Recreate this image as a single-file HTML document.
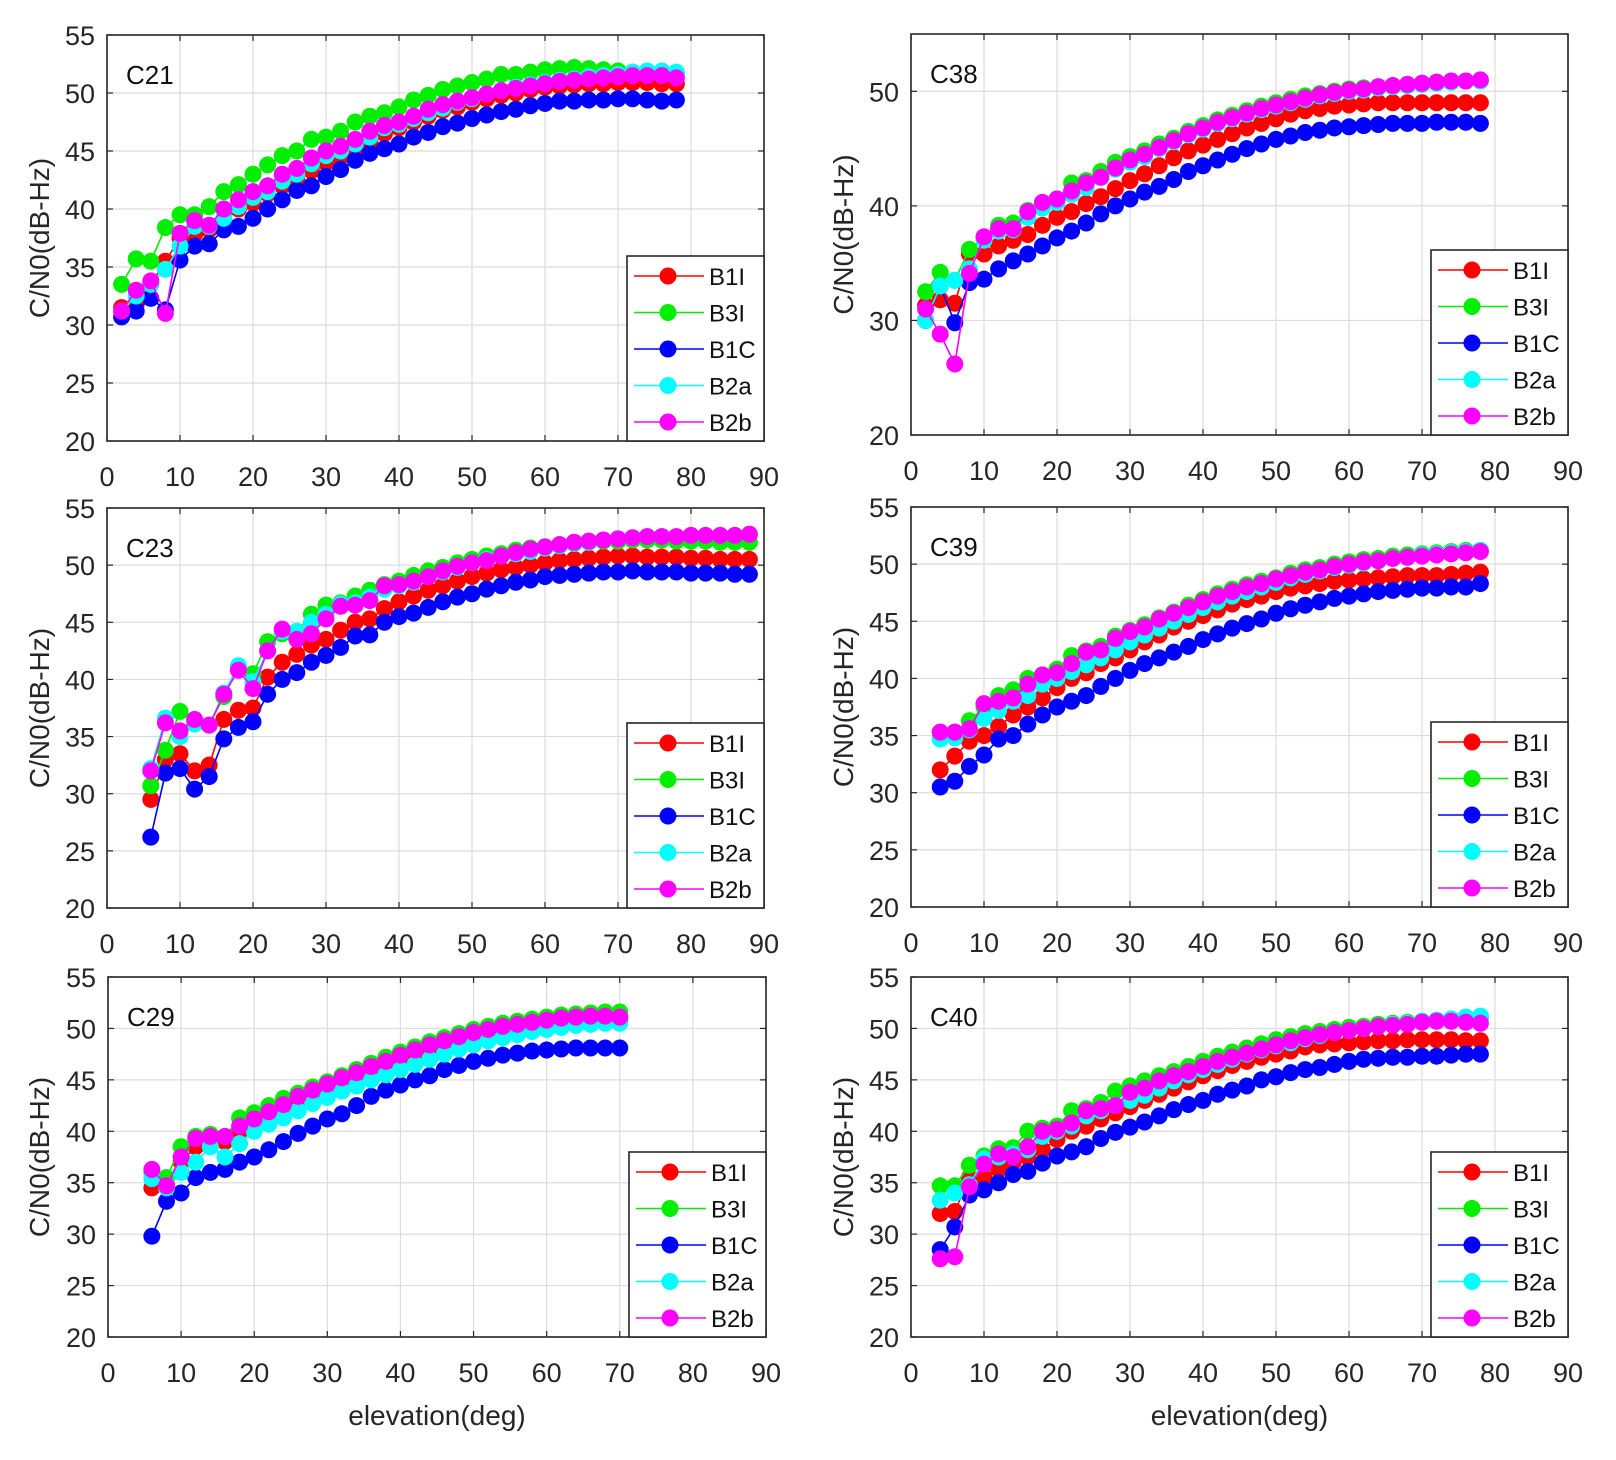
<!DOCTYPE html>
<html><head><meta charset="utf-8"><style>
html,body{margin:0;padding:0;background:#fff;}
svg{display:block;font-family:"Liberation Sans",sans-serif;}
</style></head><body>
<svg id="fig" width="1616" height="1460" viewBox="0 0 1616 1460"></svg>
<script>
const seriesNames = ["B1I","B3I","B1C","B2a","B2b"];
const seriesColors = ["#ff0000","#00ee00","#0000ff","#00ffff","#ff00ff"];
const xTicks = [0,10,20,30,40,50,60,70,80,90];

const c21X = [2,4,6,8,10,12,14,16,18,20,22,24,26,28,30,32,34,36,38,40,42,44,46,48,50,52,54,56,58,60,62,64,66,68,70,72,74,76,78];
const c21B1I = [31.5,31.8,33.5,35.5,37.5,37.8,38.2,39,40,40.5,41.3,42,42.5,43.3,44,44.5,45,45.8,46.5,47,47.5,48,48.5,48.8,49.2,49.5,49.8,50,50.3,50.5,50.6,50.7,50.8,50.8,50.9,50.9,50.9,50.8,50.8];
const c21B3I = [33.5,35.7,35.5,38.4,39.5,39.5,40.2,41.5,42.1,43,43.8,44.6,45,46,46.2,46.7,47.5,48,48.3,48.8,49.4,49.8,50.3,50.6,50.9,51.2,51.6,51.6,51.8,52,52.1,52.2,52.1,52,51.9,51.8,51.8,51.7,51.6];
const c21B1C = [30.7,31.2,32.3,31.3,35.6,36.8,37,38.2,38.5,39.2,40,40.8,41.6,42,42.8,43.4,44.2,44.8,45.2,45.6,46.2,46.6,47.1,47.4,47.8,48.1,48.4,48.6,48.9,49.1,49.3,49.3,49.4,49.4,49.5,49.5,49.4,49.3,49.4];
const c21B2a = [31.2,32.5,33.5,34.8,36.8,38.5,38.5,39.2,40.2,41,41.5,42.4,43,43.9,44.6,45,45.6,46.2,47,47.3,47.8,48.3,48.7,49.2,49.5,49.9,50.2,50.5,50.7,50.9,51.1,51.2,51.4,51.5,51.6,51.8,51.9,51.9,51.8];
const c21B2b = [31.2,33,33.8,31,37.9,39,38.6,40,40.8,41.5,42,43,43.5,44.4,45,45.4,46,46.7,47.2,47.5,48,48.6,49,49.3,49.6,49.9,50.2,50.4,50.6,50.8,51,51.1,51.2,51.3,51.4,51.5,51.5,51.5,51.3];

const c38X = c21X;
const c38B1I = [31.3,31.8,31.5,35.8,35.8,36.5,37,37.5,38.3,39,39.5,40.2,40.8,41.5,42.2,42.8,43.5,44.2,44.8,45.3,45.8,46.3,46.8,47.2,47.6,48,48.3,48.5,48.7,48.8,48.9,49,49,49,49,49,49,49,49];
const c38B3I = [32.5,34.2,33.5,36.2,37.2,38.3,38.5,39.6,40.2,40.6,42,42.2,43,43.8,44.3,44.8,45.4,45.9,46.5,47,47.5,47.9,48.3,48.7,49,49.3,49.6,49.8,50,50.2,50.3,50.4,50.5,50.6,50.7,50.8,50.8,50.9,50.9];
const c38B1C = [30,33,29.8,33.3,33.6,34.5,35.2,35.8,36.5,37.2,37.8,38.5,39.3,40,40.6,41.2,41.7,42.3,43,43.5,44,44.5,45,45.4,45.8,46.1,46.4,46.6,46.8,46.9,47,47.1,47.2,47.2,47.2,47.3,47.3,47.3,47.2];
const c38B2a = [30,33,33.5,34.5,37,37.8,37.9,39,39.8,40.3,41,41.6,42.5,43.2,43.8,44.3,45,45.6,46.2,46.7,47.2,47.6,48,48.4,48.7,49,49.3,49.6,49.8,50,50.1,50.3,50.4,50.5,50.6,50.7,50.8,50.9,50.9];
const c38B2b = [31,28.8,26.2,34.1,37.3,38,38,39.5,40.3,40.6,41.3,42,42.5,43.3,44,44.5,45.1,45.7,46.3,46.8,47.3,47.7,48.1,48.5,48.8,49.1,49.4,49.7,49.9,50.1,50.2,50.4,50.5,50.6,50.7,50.8,50.9,50.9,51];

const c23X = [6,8,10,12,14,16,18,20,22,24,26,28,30,32,34,36,38,40,42,44,46,48,50,52,54,56,58,60,62,64,66,68,70,72,74,76,78,80,82,84,86,88];
const c23B1I = [29.5,33,33.5,32,32.5,36.5,37.3,37.5,40.2,41.5,42.2,43,43.5,44.3,45,45.3,46.2,46.8,47.3,47.8,48.2,48.6,49,49.3,49.6,49.8,50,50.2,50.4,50.5,50.6,50.7,50.8,50.8,50.7,50.7,50.7,50.6,50.6,50.5,50.5,50.5];
const c23B3I = [30.7,33.8,37.2,36.3,36,38.5,41,40.5,43.3,44,44.2,45.7,46.5,46.7,47.3,47.8,48.3,48.6,49.1,49.5,49.8,50.2,50.5,50.8,51,51.3,51.5,51.6,51.8,51.9,52,52.1,52.1,52.2,52.2,52.2,52.1,52.1,52.1,52,52,52];
const c23B1C = [26.2,31.8,32.2,30.4,31.5,34.8,35.8,36.3,38.7,40,40.6,41.5,42.1,42.8,43.8,43.9,45,45.5,45.8,46.3,46.8,47.2,47.5,47.9,48.2,48.5,48.7,49,49.1,49.2,49.3,49.4,49.4,49.5,49.4,49.4,49.4,49.3,49.3,49.3,49.2,49.2];
const c23B2a = [32.2,36.6,35,36.1,36,38.8,41.2,39.8,42.5,44.2,44.2,45,45.7,46.6,46.7,47.2,47.9,48.2,48.5,49,49.4,49.8,50.2,50.5,50.8,51,51.2,51.5,51.7,51.9,52,52.2,52.3,52.4,52.5,52.5,52.5,52.6,52.6,52.6,52.6,52.7];
const c23B2b = [32,36.2,35.5,36.5,36,38.7,40.8,39.2,42.5,44.4,43.5,44,45.3,46.4,46.5,46.9,48.2,48.3,48.6,49,49.5,49.9,50.2,50.4,50.8,51.1,51.4,51.6,51.8,52,52.1,52.2,52.3,52.4,52.5,52.5,52.5,52.6,52.6,52.6,52.6,52.7];

const c39X = [4,6,8,10,12,14,16,18,20,22,24,26,28,30,32,34,36,38,40,42,44,46,48,50,52,54,56,58,60,62,64,66,68,70,72,74,76,78];
const c39B1I = [32,33.2,34.5,35,35.8,36.8,37.5,38.3,39.2,40,40.5,41.3,41.8,42.5,43.2,43.8,44.5,45,45.5,46,46.5,46.9,47.2,47.6,47.9,48.1,48.3,48.5,48.6,48.7,48.8,48.9,49,49,49,49.1,49.2,49.3];
const c39B3I = [35.3,35.3,36.3,37.5,38.5,39,40,40.3,40.8,42,42.4,42.8,43.7,44.2,44.7,45.3,45.8,46.4,46.9,47.4,47.8,48.2,48.5,48.8,49.2,49.5,49.7,50,50.2,50.4,50.5,50.7,50.8,50.9,51,51.1,51.2,51.2];
const c39B1C = [30.5,31,32.3,33.3,34.7,35,36,36.8,37.5,38,38.5,39.3,40,40.7,41.3,41.8,42.3,42.8,43.4,43.9,44.4,44.8,45.2,45.7,46.1,46.4,46.7,47,47.2,47.4,47.6,47.7,47.8,47.9,47.9,48,48,48.3];
const c39B2a = [34.7,34.8,35.5,36.5,37.2,38,38.5,39.5,40,40.6,41.2,41.8,42.5,43.2,43.8,44.4,45,45.6,46.2,46.7,47.2,47.6,48,48.4,48.8,49.1,49.4,49.7,49.9,50.1,50.3,50.5,50.6,50.8,50.9,51,51.1,51.2];
const c39B2b = [35.3,35.3,35.6,37.8,38,38.3,39.5,40.3,40.5,41.3,42.3,42.5,43.5,44.1,44.5,45.2,45.7,46.2,46.7,47.2,47.6,48,48.3,48.7,49,49.3,49.5,49.8,50,50.2,50.3,50.5,50.6,50.7,50.8,50.9,51,51.1];

const c29X = [6,8,10,12,14,16,18,20,22,24,26,28,30,32,34,36,38,40,42,44,46,48,50,52,54,56,58,60,62,64,66,68,70];
const c29B1I = [34.5,34.8,37,38.5,38.8,39,40,41,41.7,42.2,42.8,43.4,43.8,44.3,44.8,45.3,45.8,46.3,46.8,47.3,47.8,48.2,48.6,49,49.3,49.6,49.8,50,50.2,50.4,50.5,50.6,50.7];
const c29B3I = [36,35.5,38.5,39.5,39.7,39.5,41.3,41.8,42.5,43.2,43.7,44.3,44.8,45.4,46,46.6,47.2,47.7,48.2,48.7,49.1,49.5,49.9,50.2,50.5,50.7,50.9,51.1,51.3,51.4,51.5,51.6,51.6];
const c29B1C = [29.8,33.2,34,35.5,36,36.3,37,37.5,38.2,39,39.8,40.5,41.2,41.7,42.5,43.4,44,44.5,45,45.4,46,46.4,46.8,47.1,47.4,47.6,47.8,47.9,48,48.1,48.1,48.1,48.1];
const c29B2a = [35.4,34.5,36,37,38.5,37.5,38.8,40,40.7,41.3,42,42.7,43.3,43.9,44.4,45,45.5,46,46.5,47,47.5,48,48.4,48.8,49.1,49.4,49.7,49.9,50.1,50.3,50.4,50.5,50.5];
const c29B2b = [36.3,34.7,37.5,39.3,39.5,39.5,40.5,41.2,41.9,42.6,43.4,44,44.6,45.2,45.7,46.3,46.8,47.4,47.9,48.4,48.8,49.2,49.6,49.9,50.2,50.4,50.6,50.8,51,51.1,51.2,51.2,51.1];

const c40X = c39X;
const c40B1I = [32,32.2,35.5,35.5,36.3,37,37.5,38.2,39.2,40,40.5,41.2,41.8,42.4,43,43.6,44.2,44.8,45.4,45.9,46.4,46.8,47.2,47.5,47.8,48.2,48.4,48.5,48.6,48.7,48.8,48.8,48.9,48.9,48.9,48.9,48.8,48.8];
const c40B3I = [34.7,34.7,36.7,37.6,38.3,38.4,40,40.3,40.5,42,42.2,42.8,43.9,44.4,44.9,45.4,45.8,46.3,46.8,47.3,47.7,48.1,48.5,48.9,49.2,49.5,49.7,49.9,50.1,50.2,50.4,50.5,50.6,50.7,50.8,50.9,51,51];
const c40B1C = [28.5,30.7,33.8,34.3,35,35.8,36.1,36.9,37.6,38,38.5,39.3,39.9,40.4,40.9,41.5,42.1,42.6,43,43.6,44,44.4,45,45.3,45.7,46,46.2,46.5,46.8,47,47.1,47.2,47.2,47.3,47.3,47.4,47.5,47.5];
const c40B2a = [33.3,34,34.8,37.3,37.5,37.8,38.2,39.5,40,40.5,41.5,42,42.5,43,43.5,44.2,44.9,45.5,46,46.5,47,47.5,47.9,48.3,48.6,49,49.3,49.6,49.8,50,50.2,50.4,50.5,50.7,50.8,50.9,51.1,51.2];
const c40B2b = [27.6,27.8,34.6,36.8,37.8,37.5,38.5,40,40.2,40.8,42,42.2,42.5,43.8,44.2,44.9,45.4,45.8,46.3,46.8,47.2,47.6,48,48.4,48.8,49.1,49.4,49.6,49.8,50,50.2,50.3,50.4,50.6,50.7,50.7,50.6,50.5];

const NS = "http://www.w3.org/2000/svg";
const svg = document.getElementById("fig");
function mk(tag, attrs, parent, text) {
  const e = document.createElementNS(NS, tag);
  for (const k in attrs) e.setAttribute(k, attrs[k]);
  if (text !== undefined) e.textContent = text;
  (parent || svg).appendChild(e);
  return e;
}

const panels = [
  {id:"c21", title:"C21", L:107, R:764, T:35, B:441, yt:[20,25,30,35,40,45,50,55], x:c21X, s:[c21B1I,c21B3I,c21B1C,c21B2a,c21B2b], ylab:39, xlab:false},
  {id:"c38", title:"C38", L:911, R:1568, T:34, B:435, yt:[20,30,40,50], x:c38X, s:[c38B1I,c38B3I,c38B1C,c38B2a,c38B2b], ylab:843, xlab:false},
  {id:"c23", title:"C23", L:107, R:764, T:508, B:908, yt:[20,25,30,35,40,45,50,55], x:c23X, s:[c23B1I,c23B3I,c23B1C,c23B2a,c23B2b], ylab:39, xlab:false},
  {id:"c39", title:"C39", L:911, R:1568, T:507, B:907, yt:[20,25,30,35,40,45,50,55], x:c39X, s:[c39B1I,c39B3I,c39B1C,c39B2a,c39B2b], ylab:843, xlab:false},
  {id:"c29", title:"C29", L:108, R:766, T:977, B:1337, yt:[20,25,30,35,40,45,50,55], x:c29X, s:[c29B1I,c29B3I,c29B1C,c29B2a,c29B2b], ylab:39, xlab:true},
  {id:"c40", title:"C40", L:911, R:1568, T:977, B:1337, yt:[20,25,30,35,40,45,50,55], x:c40X, s:[c40B1I,c40B3I,c40B1C,c40B2a,c40B2b], ylab:843, xlab:true}
];

panels.forEach(p => {
  const g = mk("g", {});
  
  
  const xs = v => p.L + (v - 0) / 90 * (p.R - p.L);
  const ys = v => p.B - (v - 20) / 35 * (p.B - p.T);
  // grid
  xTicks.forEach(t => {
    const x = xs(t);
    const gl = mk("line", {x1:x, x2:x, y1:p.T, y2:p.B, stroke:"#dcdcdc", "stroke-width":1.2}, g);
    
    
    mk("line", {x1:x, x2:x, y1:p.B, y2:p.B-6, stroke:"#262626", "stroke-width":1.2}, g);
    mk("line", {x1:x, x2:x, y1:p.T, y2:p.T+6, stroke:"#262626", "stroke-width":1.2}, g);
    const tl = mk("text", {x:x, y:p.B+45, "text-anchor":"middle", "font-size":27, fill:"#262626"}, g, String(t));
    
    
  });
  p.yt.forEach(t => {
    const y = ys(t);
    const gl = mk("line", {x1:p.L, x2:p.R, y1:y, y2:y, stroke:"#dcdcdc", "stroke-width":1.2}, g);
    
    
    mk("line", {x1:p.L, x2:p.L+6, y1:y, y2:y, stroke:"#262626", "stroke-width":1.2}, g);
    mk("line", {x1:p.R, x2:p.R-6, y1:y, y2:y, stroke:"#262626", "stroke-width":1.2}, g);
    const tl = mk("text", {x:p.L-12, y:y+10, "text-anchor":"end", "font-size":27, fill:"#262626"}, g, String(t));
    
    
  });
  // series
  p.s.forEach((vals, si) => {
    const sg = mk("g", {}, g);
    
    
    const pts = vals.map((v, i) => xs(p.x[i]) + "," + ys(v)).join(" ");
    mk("polyline", {points:pts, fill:"none", stroke:seriesColors[si], "stroke-width":1.6}, sg);
    vals.forEach((v, i) => {
      const c = mk("circle", {cx:xs(p.x[i]), cy:ys(v), r:8.5, fill:seriesColors[si]}, sg);
      
      
    });
  });
  // box
  const box = mk("rect", {x:p.L, y:p.T, width:p.R-p.L, height:p.B-p.T, fill:"none", stroke:"#262626", "stroke-width":1.6}, g);
  
  
  const tt = mk("text", {x:p.L+19, y:p.T+49, "font-size":26, fill:"#111"}, g, p.title);
  
  
  // y label
  const cy = (p.T + p.B) / 2;
  const yl = mk("text", {x:p.ylab, y:cy, "text-anchor":"middle", "font-size":28, fill:"#262626", transform:"rotate(-90 " + p.ylab + " " + cy + ")", dy:10}, g, "C/N0(dB-Hz)");
  
  
  if (p.xlab) {
    const xl = mk("text", {x:(p.L+p.R)/2, y:p.B+88, "text-anchor":"middle", "font-size":28, fill:"#262626"}, g, "elevation(deg)");
    
    
  }
  // legend
  const lg = mk("g", {}, g);
  
  
  const lw = 137, lh = 185, lx = p.R - lw, ly = p.B - lh;
  mk("rect", {x:lx, y:ly, width:lw, height:lh, fill:"#fff", stroke:"#262626", "stroke-width":1.6}, lg);
  seriesNames.forEach((n, i) => {
    const ry = ly + 20 + i * 36.5;
    const e = mk("g", {}, lg);
    
    
    mk("line", {x1:lx+7, x2:lx+77, y1:ry, y2:ry, stroke:seriesColors[i], "stroke-width":1.6}, e);
    mk("circle", {cx:lx+41, cy:ry, r:8.5, fill:seriesColors[i]}, e);
    mk("text", {x:lx+82, y:ry+9, "font-size":24, fill:"#111"}, e, n);
  });
});
</script>
</body></html>
